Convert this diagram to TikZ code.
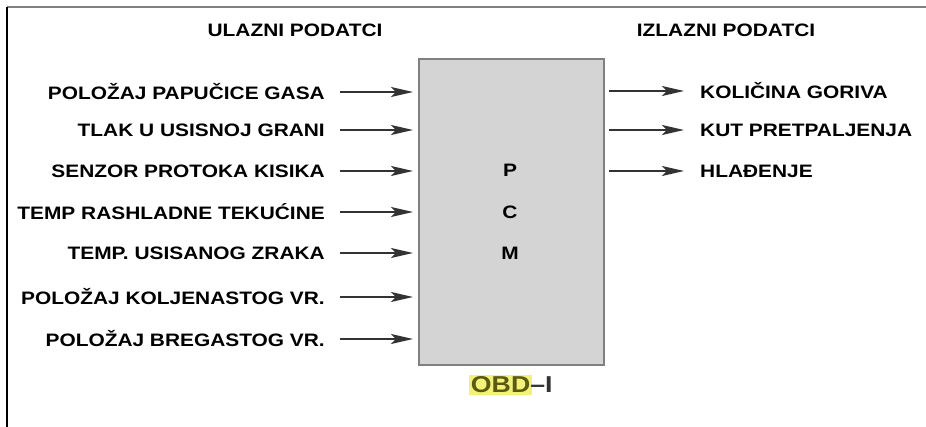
\documentclass[tikz,border=0pt]{standalone}
\usepackage{fontspec}
\setmainfont{Liberation Sans}
\newfontfamily\lblfont[FakeStretch=1.16]{Liberation Sans Bold}
\usetikzlibrary{arrows.meta}
\definecolor{boxfill}{HTML}{D4D4D4}
\definecolor{boxline}{HTML}{808080}
\definecolor{obdtext}{HTML}{5A5A10}
\definecolor{obdhl}{HTML}{F2F27A}
\begin{document}
\begin{tikzpicture}[x=1pt,y=-1pt,
  lbl/.style={font=\lblfont\fontsize{18}{20}\selectfont, inner sep=0pt},
  inarrow/.style={-{Stealth[length=22pt,width=10pt,inset=5pt]}, line width=1.8pt, black!80},
  title/.style={font=\lblfont\fontsize{18}{20}\selectfont, inner sep=0pt}]
\useasboundingbox (0,0) rectangle (926,427);
\draw[gray, line width=1.5pt] (7,7) -- (926,7);
\draw[black, line width=1.2pt] (7,7) -- (7,427);
\node[title] (tin) at (295,30) {ULAZNI PODATCI};
\node[title] (tout) at (726,30) {IZLAZNI PODATCI};
\node[draw=boxline, fill=boxfill, line width=1.2pt, minimum width=185pt, minimum height=306pt, inner sep=0pt] (pcm) at (511.5,212) {};
\node[lbl] (p) at (510,170) {P};
\node[lbl] (c) at (510,212) {C};
\node[lbl] (m) at (510,253) {M};
\node[font=\lblfont\fontsize{23}{24}\selectfont, inner sep=0pt] (obd) at (511,385) {\setlength{\fboxsep}{1.5pt}\colorbox{obdhl}{\color{obdtext}OBD}\kern-1.5pt\color{black!80}–I};
% inputs
\foreach \n/\y/\t in {a/92/POLOŽAJ PAPUČICE GASA, b/130/TLAK U USISNOJ GRANI, c2/171/SENZOR PROTOKA KISIKA, d/212/TEMP RASHLADNE TEKUĆINE, e/253/TEMP. USISANOG ZRAKA, f/297/POLOŽAJ KOLJENASTOG VR., g/339/POLOŽAJ BREGASTOG VR.}{
  \node[lbl, anchor=east] (in\n) at (325,\y) {\t};
  \coordinate (s\n) at (340,\y);
  \coordinate (e\n) at (413,\y);
  \draw[inarrow] (s\n) -- (e\n);
}
% outputs
\foreach \n/\y/\t in {a/91/KOLIČINA GORIVA, b/130/KUT PRETPALJENJA, c2/171/HLAĐENJE}{
  \node[lbl, anchor=west] (out\n) at (700,\y) {\t};
  \coordinate (os\n) at (609,\y);
  \coordinate (oe\n) at (684,\y);
  \draw[inarrow] (os\n) -- (oe\n);
}
\end{tikzpicture}
\end{document}
